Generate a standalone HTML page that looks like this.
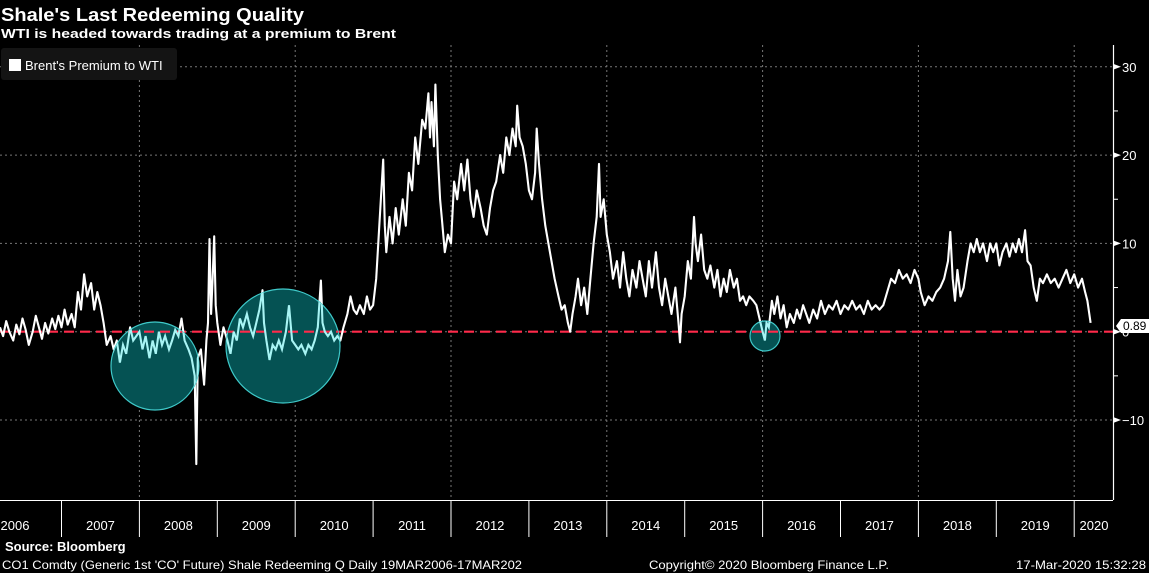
<!DOCTYPE html>
<html><head><meta charset="utf-8"><style>
html,body{margin:0;padding:0;background:#000;}
svg{display:block;font-family:"Liberation Sans",sans-serif;}
</style></head><body>
<svg id="chart" width="1149" height="573" viewBox="0 0 1149 573" xmlns="http://www.w3.org/2000/svg">
<rect width="1149" height="573" fill="#000"/>
<text x="1" y="21" fill="#fff" font-weight="bold" font-size="18" textLength="303" lengthAdjust="spacingAndGlyphs">Shale's Last Redeeming Quality</text>
<text x="1" y="38" fill="#fff" font-weight="bold" font-size="13" textLength="395" lengthAdjust="spacingAndGlyphs">WTI is headed towards trading at a premium to Brent</text>
<g id="grid"></g>
<defs><clipPath id="circClip"><circle cx="155" cy="366" r="44"/><circle cx="283" cy="346" r="57"/><circle cx="765" cy="336" r="15"/></clipPath></defs>
<line id="refline" x1="0" x2="1113" stroke="#ff2a4a" stroke-width="2.2" stroke-dasharray="10,6"/>
<path id="series" fill="none" stroke="#fff" stroke-width="2.1" stroke-linejoin="round"/>
<g>
<circle cx="155" cy="366" r="44" fill="#055253" stroke="#3fc9c9" stroke-width="1.2"/>
<circle cx="283" cy="346" r="57" fill="#055253" stroke="#3fc9c9" stroke-width="1.2"/>
<circle cx="765" cy="336" r="15" fill="#055253" stroke="#3fc9c9" stroke-width="1.2"/>
</g>
<line id="refline2" x1="0" x2="1113" stroke="#ff2a4a" stroke-width="2.2" stroke-dasharray="10,6" clip-path="url(#circClip)"/>
<path id="series2" fill="none" stroke="#a8f4f4" stroke-width="2.1" clip-path="url(#circClip)"/>
<g>
<rect x="1" y="48" width="176" height="32" rx="3" fill="#141414"/>
<rect x="9" y="59" width="12" height="12" fill="#fff"/>
<text x="25" y="70" fill="#fff" font-size="13">Brent's Premium to WTI</text>
</g>
<g id="yaxis"></g>
<g id="xaxis"></g>
<g>
<path d="M1116 326 L1121 319 L1149 319 L1149 333 L1121 333 Z" fill="#fff"/>
<text x="1123" y="330" font-size="12" fill="#000">0.89</text>
</g>
<text x="5" y="551" fill="#fff" font-weight="bold" font-size="13">Source: Bloomberg</text>
<text x="2" y="569" fill="#fff" font-size="12" textLength="520" lengthAdjust="spacingAndGlyphs">CO1 Comdty (Generic 1st 'CO' Future) Shale Redeeming Q  Daily 19MAR2006-17MAR202</text>
<text x="649" y="569" fill="#fff" font-size="12" textLength="240" lengthAdjust="spacingAndGlyphs">Copyright© 2020 Bloomberg Finance L.P.</text>
<text x="1016" y="569" fill="#fff" font-size="12" textLength="130" lengthAdjust="spacingAndGlyphs">17-Mar-2020 15:32:28</text>
</svg>
<script>
const dates = [2006.21,2006.25,2006.29,2006.33,2006.38,2006.42,2006.46,2006.5,2006.54,2006.58,2006.63,2006.67,2006.71,2006.75,2006.79,2006.83,2006.88,2006.92,2006.96,
2007.0,2007.04,2007.08,2007.13,2007.17,2007.21,2007.25,2007.29,2007.33,2007.38,2007.42,2007.46,2007.5,2007.54,2007.58,2007.63,2007.67,2007.71,2007.75,2007.79,2007.83,2007.88,2007.92,2007.96,
2008.0,2008.04,2008.08,2008.13,2008.17,2008.21,2008.25,2008.29,2008.33,2008.38,2008.42,2008.46,2008.5,2008.54,2008.58,2008.63,2008.67,2008.71,2008.73,2008.75,2008.79,2008.83,2008.86,2008.88,2008.9,2008.92,2008.94,2008.96,2008.98,
2009.0,2009.04,2009.08,2009.13,2009.17,2009.21,2009.25,2009.29,2009.33,2009.38,2009.42,2009.46,2009.5,2009.54,2009.58,2009.6,2009.63,2009.67,2009.71,2009.75,2009.79,2009.83,2009.88,2009.92,2009.96,
2010.0,2010.04,2010.08,2010.13,2010.17,2010.21,2010.25,2010.29,2010.33,2010.35,2010.38,2010.42,2010.46,2010.5,2010.54,2010.58,2010.62,2010.67,2010.71,2010.75,2010.79,2010.83,2010.88,2010.92,2010.96,
2011.0,2011.04,2011.08,2011.13,2011.15,2011.17,2011.21,2011.25,2011.29,2011.33,2011.38,2011.42,2011.46,2011.5,2011.54,2011.58,2011.63,2011.67,2011.71,2011.73,2011.75,2011.78,2011.8,2011.83,2011.86,2011.88,2011.92,2011.96,
2012.0,2012.04,2012.08,2012.13,2012.17,2012.21,2012.25,2012.29,2012.33,2012.38,2012.42,2012.46,2012.5,2012.54,2012.58,2012.63,2012.67,2012.71,2012.75,2012.79,2012.83,2012.85,2012.88,2012.92,2012.96,
2013.0,2013.04,2013.08,2013.1,2013.13,2013.17,2013.21,2013.25,2013.29,2013.33,2013.38,2013.42,2013.46,2013.5,2013.53,2013.56,2013.6,2013.63,2013.67,2013.71,2013.75,2013.79,2013.83,2013.87,2013.9,2013.92,2013.96,
2014.0,2014.04,2014.08,2014.13,2014.17,2014.21,2014.25,2014.29,2014.33,2014.38,2014.42,2014.46,2014.5,2014.54,2014.58,2014.63,2014.67,2014.71,2014.75,2014.79,2014.83,2014.88,2014.92,2014.94,2014.96,
2015.0,2015.04,2015.08,2015.12,2015.14,2015.17,2015.21,2015.25,2015.29,2015.33,2015.38,2015.42,2015.46,2015.5,2015.54,2015.58,2015.63,2015.67,2015.71,2015.75,2015.79,2015.83,2015.88,2015.92,2015.96,
2016.0,2016.03,2016.05,2016.08,2016.12,2016.15,2016.19,2016.23,2016.27,2016.31,2016.35,2016.4,2016.44,2016.48,2016.52,2016.56,2016.6,2016.65,2016.7,2016.75,2016.8,2016.85,2016.9,2016.95,
2017.0,2017.05,2017.1,2017.15,2017.2,2017.25,2017.3,2017.35,2017.4,2017.45,2017.5,2017.55,2017.6,2017.65,2017.7,2017.75,2017.8,2017.85,2017.9,2017.95,
2018.0,2018.03,2018.08,2018.13,2018.18,2018.23,2018.28,2018.33,2018.38,2018.41,2018.44,2018.47,2018.5,2018.54,2018.58,2018.63,2018.67,2018.71,2018.75,2018.79,2018.83,2018.88,2018.92,2018.96,
2019.0,2019.04,2019.08,2019.13,2019.17,2019.21,2019.25,2019.29,2019.33,2019.37,2019.4,2019.44,2019.48,2019.52,2019.56,2019.6,2019.65,2019.7,2019.75,2019.8,2019.85,2019.9,2019.95,
2020.0,2020.05,2020.1,2020.14,2020.17,2020.21];
const values = [0.5,-0.5,1.2,0,-1,0.8,-0.3,1.5,0.2,-1.5,0,1.8,0.5,-0.8,1.0,-0.2,1.5,0.3,1.8,
0.5,2.5,0.8,2,0.5,4.5,2.5,6.5,4,5.5,2.5,4.5,3,1,-1.5,-0.5,-2,-1,-3.5,-1.5,-2.5,0.5,-1,-0.5,
0,-2,-0.5,-3,-1,-2.5,0,-1.5,-0.5,-2,-1,0.2,-0.5,1.5,-1,-2,-3,-5,-15,-3,-2,-6,-1,1,10.5,2,6,10.8,3,
1,-1.5,0.5,-1,-2.5,0,-1,1.5,0.5,2,0.5,-0.5,1,2.5,4.7,1,-1,-3.2,-1.5,-2,-1,-2,0,3,-1,
-1.5,-2,-1.5,-2.5,-1.5,-2,-1,0.5,5.8,1,0,-0.5,0,-1,-0.5,-1,0.5,2,4,2.5,2,3,2,4,2.5,
3,6,12,19.5,12,9,13,10,14,11,15,12,18,16,22,19,24,23,27,22,26,21,28,20,15,13,9,11,
10,17,15,19,16,19.5,15,13,16,14,12,11,14,16,17,20,18,22,20,23,21,25.6,22,21,19,
16,15,18,23,19,15,12,10,8,6,4,2.5,3,1,0,2,4,6,3,5,2,6,10,13,19,13,15,
11,9,6,8,5,9,6,4,7,5,8,6,4,8,5,9,5,3,6,4,2,5,1,-1.2,2,
4,8,6,13,10,8,11,7,6,7.5,5,7,4,6,4.5,7,5,6,3.5,4,3,4,3.5,3,1.5,
0,-1,1,0.5,3.5,2,4,1.5,3,0.5,2,1,2.5,1.5,3,2,1,2.5,1.5,3.5,2,3,2.5,3.5,
2,3,2.5,3.5,2.5,3,2,3.5,2.5,3,2.5,3,4.5,6,5.5,7,6,6.5,5.5,7,
6,4.5,3,4,3.5,4.5,5,6,8,11.3,6,3.5,7,4,5,8,10,9,10.5,9,10,8,10,9,
10,7.5,9,10,8.5,10,9,10.5,9,11.5,8,7.5,5,3.5,6,5.5,6.5,5.5,6,5,6,7,5.5,
6.5,5,6,4.5,3.5,1];
const yTicks = [30,20,10,0,-10];
const yMinor = [25,15,5,-5];
const years = [2006,2007,2008,2009,2010,2011,2012,2013,2014,2015,2016,2017,2018,2019,2020];
const gridYears = [2008,2010,2012,2014,2016,2018,2020];
const refValue = 0;

const NS = "http://www.w3.org/2000/svg";
function xScale(t){ return 61.5 + (t - 2007) * 77.9; }
function yScale(v){ return 331.7 - v * 8.83; }
function mk(tag, attrs, parent, txt){
  const e = document.createElementNS(NS, tag);
  for (const k in attrs) e.setAttribute(k, attrs[k]);
  if (txt !== undefined) e.textContent = txt;
  parent.appendChild(e);
  return e;
}
const grid = document.getElementById('grid');
yTicks.forEach(v => {
  const l = mk('line', {x1:0, x2:1113, y1:yScale(v), y2:yScale(v), stroke:'#777', 'stroke-width':1, 'stroke-dasharray':'2,3'}, grid);
  
  
});
gridYears.forEach(y => {
  const l = mk('line', {x1:xScale(y), x2:xScale(y), y1:45, y2:500, stroke:'#777', 'stroke-width':1, 'stroke-dasharray':'2,3'}, grid);
  
  
});
['refline','refline2'].forEach(id => {
  const r = document.getElementById(id);
  r.setAttribute('y1', yScale(refValue)); r.setAttribute('y2', yScale(refValue));
});
let d = '';
dates.forEach((t, i) => { d += (i ? 'L' : 'M') + xScale(t).toFixed(1) + ' ' + yScale(values[i]).toFixed(1); });
document.getElementById('series').setAttribute('d', d);
document.getElementById('series2').setAttribute('d', d);

const ya = document.getElementById('yaxis');
mk('line', {x1:1113.5, x2:1113.5, y1:45, y2:500, stroke:'#fff', 'stroke-width':1.2}, ya);
yTicks.forEach(v => {
  const y = yScale(v);
  mk('path', {d:`M1113 ${y-3} L1121 ${y} L1113 ${y+3} Z`, fill:'#fff'}, ya);
  const t = mk('text', {x:1122, y:y+5, fill:'#fff', 'font-size':13}, ya, v === 0 ? '0' : String(v).replace('-', '\u2212'));
  
  
});
yMinor.forEach(v => { mk('line', {x1:1113, x2:1118, y1:yScale(v), y2:yScale(v), stroke:'#fff'}, ya); });

const xa = document.getElementById('xaxis');
mk('line', {x1:0, x2:1113, y1:500.5, y2:500.5, stroke:'#fff', 'stroke-width':1}, xa);
years.forEach(y => {
  if (y > 2006) mk('line', {x1:xScale(y), x2:xScale(y), y1:501, y2:537, stroke:'#fff', 'stroke-width':1}, xa);
  let cx = xScale(y + 0.5);
  if (y === 2006) cx = 15;
  if (y === 2020) cx = 1094;
  const t = mk('text', {x:cx, y:530, fill:'#fff', 'font-size':13, 'text-anchor':'middle'}, xa, String(y));
  
  
});
</script>
</body></html>
